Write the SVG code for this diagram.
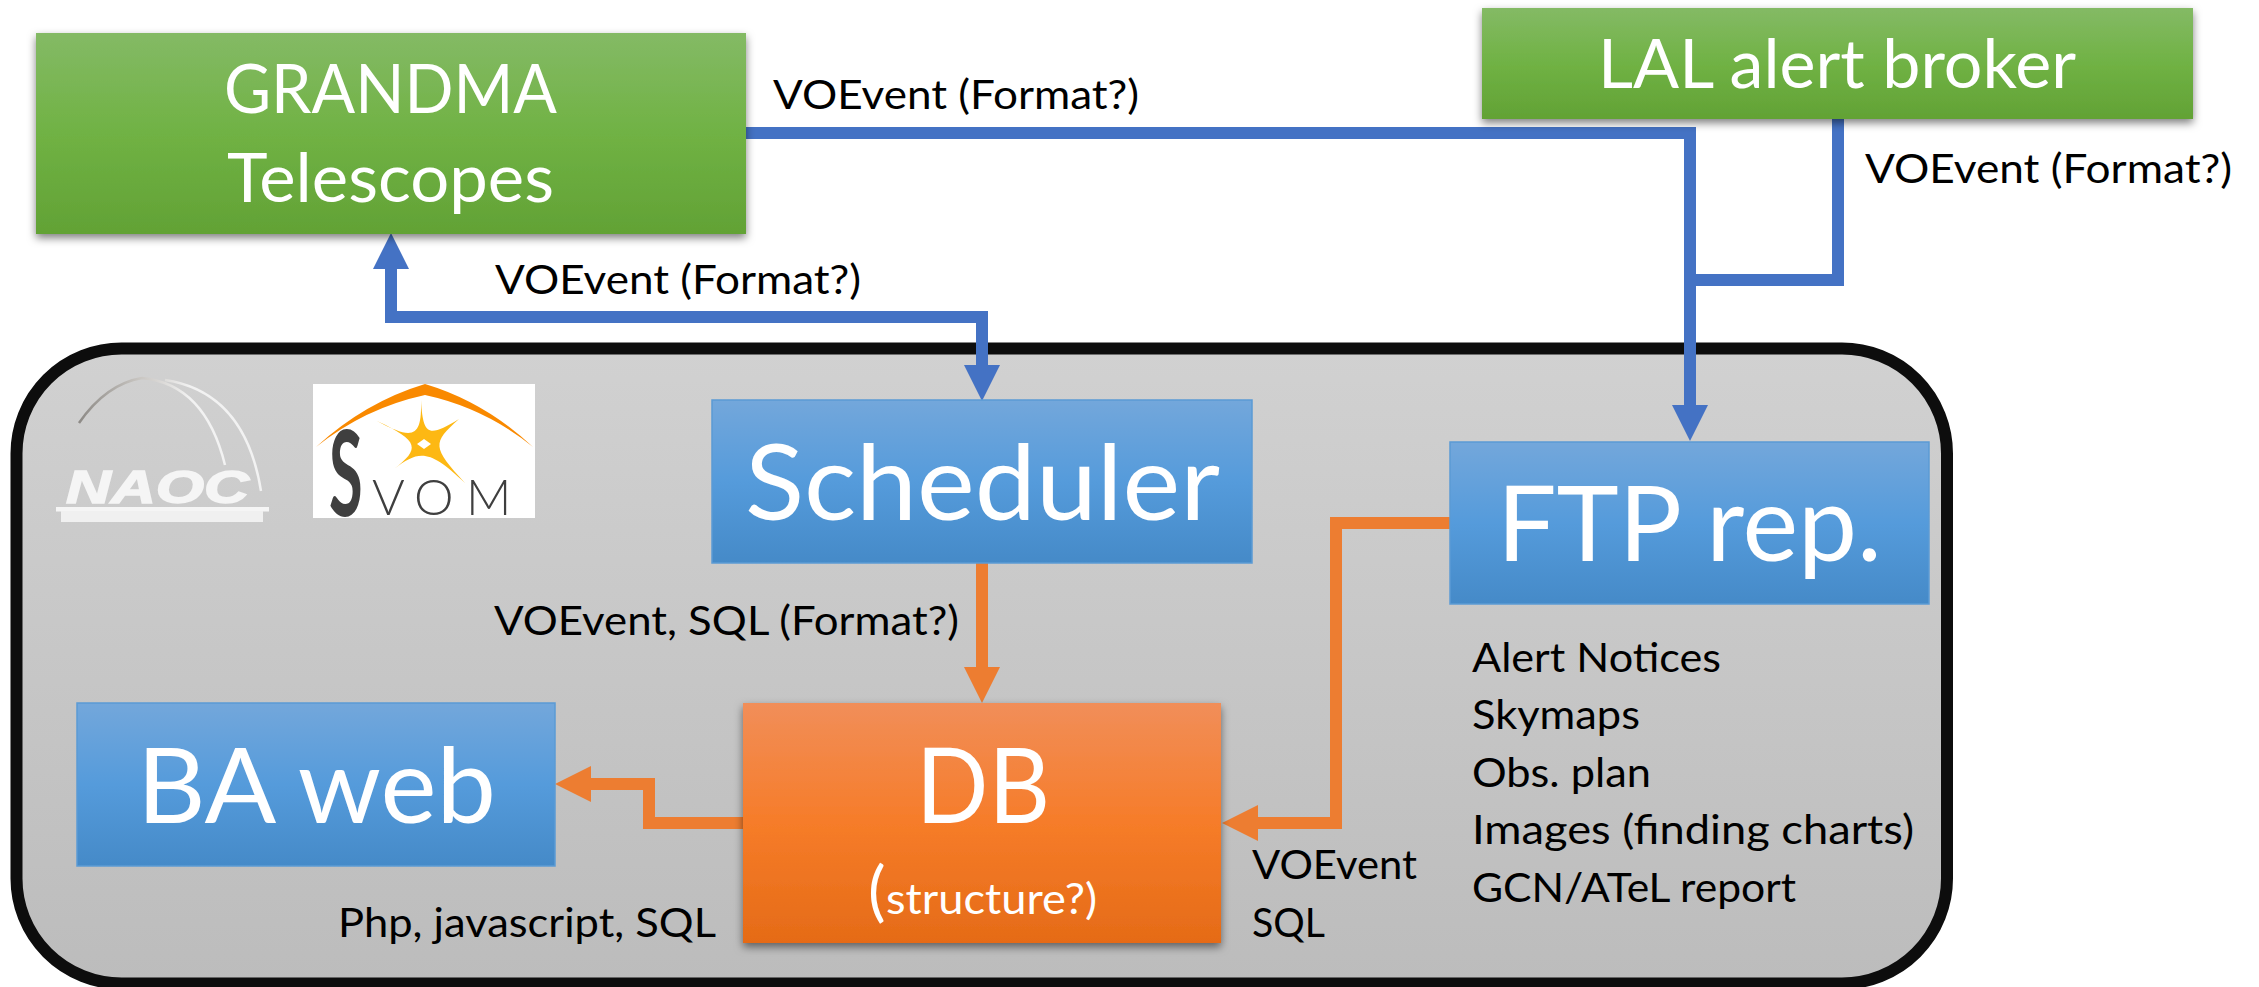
<svg xmlns="http://www.w3.org/2000/svg" width="2259" height="987" viewBox="0 0 2259 987">
<style>
text{font-family:Lato,"Open Sans","Liberation Sans",sans-serif}
.big{fill:#fff;font-size:104px}
.mid{fill:#fff;font-size:67px}
.lab{fill:#000;font-size:41px}
.wire{fill:none;stroke-width:12;stroke-linejoin:miter}
.blue{stroke:#4472c4}
.orange{stroke:#ed7d31}
.box{stroke:none}
.bl{stroke:#5b9bd5;stroke-width:1.5}
</style>
<defs>
<linearGradient id="gc" x1="0" y1="0" x2="0" y2="1"><stop offset="0" stop-color="#d1d1d1"/><stop offset="1" stop-color="#bcbcbc"/></linearGradient>
<linearGradient id="gg" x1="0" y1="0" x2="0" y2="1"><stop offset="0" stop-color="#84ba65"/><stop offset=".5" stop-color="#70b244"/><stop offset="1" stop-color="#62a235"/></linearGradient>
<linearGradient id="gb" x1="0" y1="0" x2="0" y2="1"><stop offset="0" stop-color="#73a7db"/><stop offset=".5" stop-color="#559bdb"/><stop offset="1" stop-color="#458ac8"/></linearGradient>
<linearGradient id="go" x1="0" y1="0" x2="0" y2="1"><stop offset="0" stop-color="#f18e59"/><stop offset=".5" stop-color="#f67c29"/><stop offset="1" stop-color="#e56b17"/></linearGradient>
<linearGradient id="dome" gradientUnits="userSpaceOnUse" x1="79" y1="0" x2="190" y2="0"><stop offset="0" stop-color="#8d8a86"/><stop offset=".55" stop-color="#c9c6c2"/><stop offset="1" stop-color="#f2f2f2"/></linearGradient>
<filter id="sh" x="-5%" y="-10%" width="110%" height="125%"><feDropShadow dx="0" dy="4" stdDeviation="4" flood-color="#000" flood-opacity=".5"/></filter>
<marker id="ab" markerUnits="userSpaceOnUse" markerWidth="37" markerHeight="36" refX="0" refY="18" orient="auto-start-reverse"><path d="M0 0L36 18L0 36Z" fill="#4472c4"/></marker>
<marker id="ao" markerUnits="userSpaceOnUse" markerWidth="37" markerHeight="36" refX="0" refY="18" orient="auto"><path d="M0 0L36 18L0 36Z" fill="#ed7d31"/></marker>
</defs>
<rect width="2259" height="987" fill="#fff"/>

<g id="container"><rect x="16.5" y="348.5" width="1930.5" height="635" rx="105" ry="105" fill="url(#gc)" stroke="#0d0d0d" stroke-width="12"/></g>

<g id="logo-naoc">
<path d="M79 423Q106 384 142 378Q205 384 225 465" fill="none" stroke="url(#dome)" stroke-width="2.5"/>
<path d="M165 380Q245 392 261 491" fill="none" stroke="url(#dome)" stroke-width="2.5"/>
<text x="66" y="503" font-size="46" font-weight="700" font-style="italic" style="font-family:'Liberation Sans',sans-serif" fill="#f5f5f5" stroke="#f5f5f5" stroke-width="1.5" textLength="183" lengthAdjust="spacingAndGlyphs">NAOC</text>
<rect x="56" y="507" width="213" height="4.5" fill="#f5f5f5"/><rect x="61" y="511" width="202" height="11" fill="#f0f0f0"/>
</g>

<g id="logo-svom">
<rect x="313" y="384" width="222" height="134" fill="#fff"/>
<path d="M316 447Q365 402 425 384Q485 402 533 447Q485 408 425 395Q365 408 316 447Z" fill="#f98900"/>
<path d="M421 400C423 437 429 437 459 419C432 443 432 447 465 483C430 450 420 449 394 469C420 449 420 441 377 421C414 441 422 437 421 400Z" fill="#fdb813"/>
<path d="M424 439L431 444L424 449L417 444Z" fill="#fff"/>
<text transform="translate(329 516) scale(.52 1)" font-size="118" font-weight="700" fill="#3f3f3f">S</text>
<text x="372 414 466" y="515" font-size="50" font-weight="300" fill="#3f3f3f">VOM</text>
</g>

<g id="connectors">
<path class="wire blue" d="M746 133H1690V405" marker-end="url(#ab)"/>
<path class="wire blue" d="M1838 119V280H1690"/>
<path class="wire blue" d="M391 269V317H982V365" marker-start="url(#ab)" marker-end="url(#ab)"/>
<path class="wire orange" d="M982 563V667" marker-end="url(#ao)"/>
<path class="wire orange" d="M1450 523H1336V823H1258" marker-end="url(#ao)"/>
<path class="wire orange" d="M743 823H649V784H591" marker-end="url(#ao)"/>
</g>

<g id="node-grandma"><rect class="box" x="36" y="33" width="710" height="201" fill="url(#gg)" filter="url(#sh)"/>
<text class="mid" x="224" y="113" textLength="333" lengthAdjust="spacingAndGlyphs">GRANDMA</text>
<text class="mid" x="227" y="202" textLength="327" lengthAdjust="spacingAndGlyphs">Telescopes</text></g>

<g id="node-lal"><rect class="box" x="1482" y="8" width="711" height="111" fill="url(#gg)" filter="url(#sh)"/>
<text class="mid" x="1598" y="88" textLength="478" lengthAdjust="spacingAndGlyphs">LAL alert broker</text></g>

<g id="node-scheduler"><rect class="bl" x="712" y="400" width="540" height="163" fill="url(#gb)"/>
<text class="big" x="745" y="520" textLength="475" lengthAdjust="spacingAndGlyphs">Scheduler</text></g>

<g id="node-ftp"><rect class="bl" x="1450" y="442" width="479" height="162" fill="url(#gb)"/>
<text class="big" x="1497" y="561" textLength="385" lengthAdjust="spacingAndGlyphs">FTP rep.</text></g>

<g id="node-baweb"><rect class="bl" x="77" y="703" width="478" height="163" fill="url(#gb)"/>
<text class="big" x="137" y="823" textLength="359" lengthAdjust="spacingAndGlyphs">BA web</text></g>

<g id="node-db"><rect class="box" x="743" y="703" width="478" height="240" fill="url(#go)" filter="url(#sh)"/>
<text class="big" x="916" y="823" textLength="134" lengthAdjust="spacingAndGlyphs">DB</text>
<text x="868" y="914" fill="#fff" font-size="66">(</text>
<text x="886" y="914" fill="#fff" font-size="42" textLength="211" lengthAdjust="spacingAndGlyphs">structure?)</text></g>

<g id="labels">
<text class="lab" x="773" y="109" textLength="366" lengthAdjust="spacingAndGlyphs">VOEvent (Format?)</text>
<text class="lab" x="495" y="294" textLength="366" lengthAdjust="spacingAndGlyphs">VOEvent (Format?)</text>
<text class="lab" x="1865" y="183" textLength="367" lengthAdjust="spacingAndGlyphs">VOEvent (Format?)</text>
<text class="lab" x="494" y="635" textLength="465" lengthAdjust="spacingAndGlyphs">VOEvent, SQL (Format?)</text>
<text class="lab" x="338" y="937" textLength="378" lengthAdjust="spacingAndGlyphs">Php, javascript, SQL</text>
<text class="lab" x="1252" y="879" textLength="165" lengthAdjust="spacingAndGlyphs">VOEvent</text>
<text class="lab" x="1252" y="937" textLength="73" lengthAdjust="spacingAndGlyphs">SQL</text>
<text class="lab" x="1472" y="672" textLength="249" lengthAdjust="spacingAndGlyphs">Alert Notices</text>
<text class="lab" x="1472" y="729" textLength="168" lengthAdjust="spacingAndGlyphs">Skymaps</text>
<text class="lab" x="1472" y="787" textLength="179" lengthAdjust="spacingAndGlyphs">Obs. plan</text>
<text class="lab" x="1472" y="844" textLength="442" lengthAdjust="spacingAndGlyphs">Images (finding charts)</text>
<text class="lab" x="1472" y="902" textLength="324" lengthAdjust="spacingAndGlyphs">GCN/ATeL report</text>
</g>
</svg>
